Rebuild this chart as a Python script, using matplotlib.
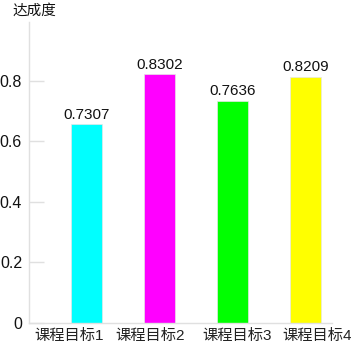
import matplotlib
matplotlib.use("Agg")
import matplotlib.pyplot as plt

categories = ["课程目标1", "课程目标2", "课程目标3", "课程目标4"]
heights = [0.658, 0.823, 0.735, 0.814]
bar_labels = ["0.7307", "0.8302", "0.7636", "0.8209"]
colors = ["#00FFFF", "#FF00FF", "#00FF00", "#FFFF00"]
yticks = [0, 0.2, 0.4, 0.6, 0.8]
ytick_labels = ["0", "0.2", "0.4", "0.6", "0.8"]
y_title = "达成度"

# horizontal offsets of category labels relative to bar centres (layout)
label_offsets = [-0.246, -0.132, 0.064, 0.157]

plt.rcParams['font.family'] = ['Liberation Sans', 'Noto Sans CJK SC', 'DejaVu Sans']

W, H = 354, 349
fig = plt.figure(figsize=(W / 100, H / 100), dpi=100)
ax = fig.add_axes([29 / W, (H - 323) / H, (332 - 29) / W, (323 - 22) / H])

x = list(range(len(categories)))
bars = ax.bar(x, heights, width=0.43, color=colors, edgecolor="#e6e6e6", linewidth=0.5)
for b, lab in zip(bars, bar_labels):
    ax.text(b.get_x() + b.get_width() / 2, b.get_height() + 0.008, lab,
            ha="center", va="bottom", fontsize=11, color="#111111")

ax.set_xlim(-0.79, 3.36)
ax.set_ylim(0, 0.995)
ax.set_xticks([xi + o for xi, o in zip(x, label_offsets)])
ax.set_xticklabels(categories, fontsize=11, color="#222222")
ax.set_yticks(yticks)
ax.set_yticklabels(ytick_labels, fontsize=11.5, color="#111111")
ax.tick_params(axis="x", length=0, pad=4)
ax.tick_params(axis="y", direction="in", length=11, width=1, color="#e0e0e0", pad=5)

for s in ["top", "right"]:
    ax.spines[s].set_visible(False)
for s in ["left", "bottom"]:
    ax.spines[s].set_color("#e0e0e0")
    ax.spines[s].set_linewidth(1)

fig.text(12 / W, (H - 15) / H, y_title, fontsize=10.5, ha="left", va="baseline", color="#111111")

fig.savefig("out.png", dpi=100, facecolor="white")
